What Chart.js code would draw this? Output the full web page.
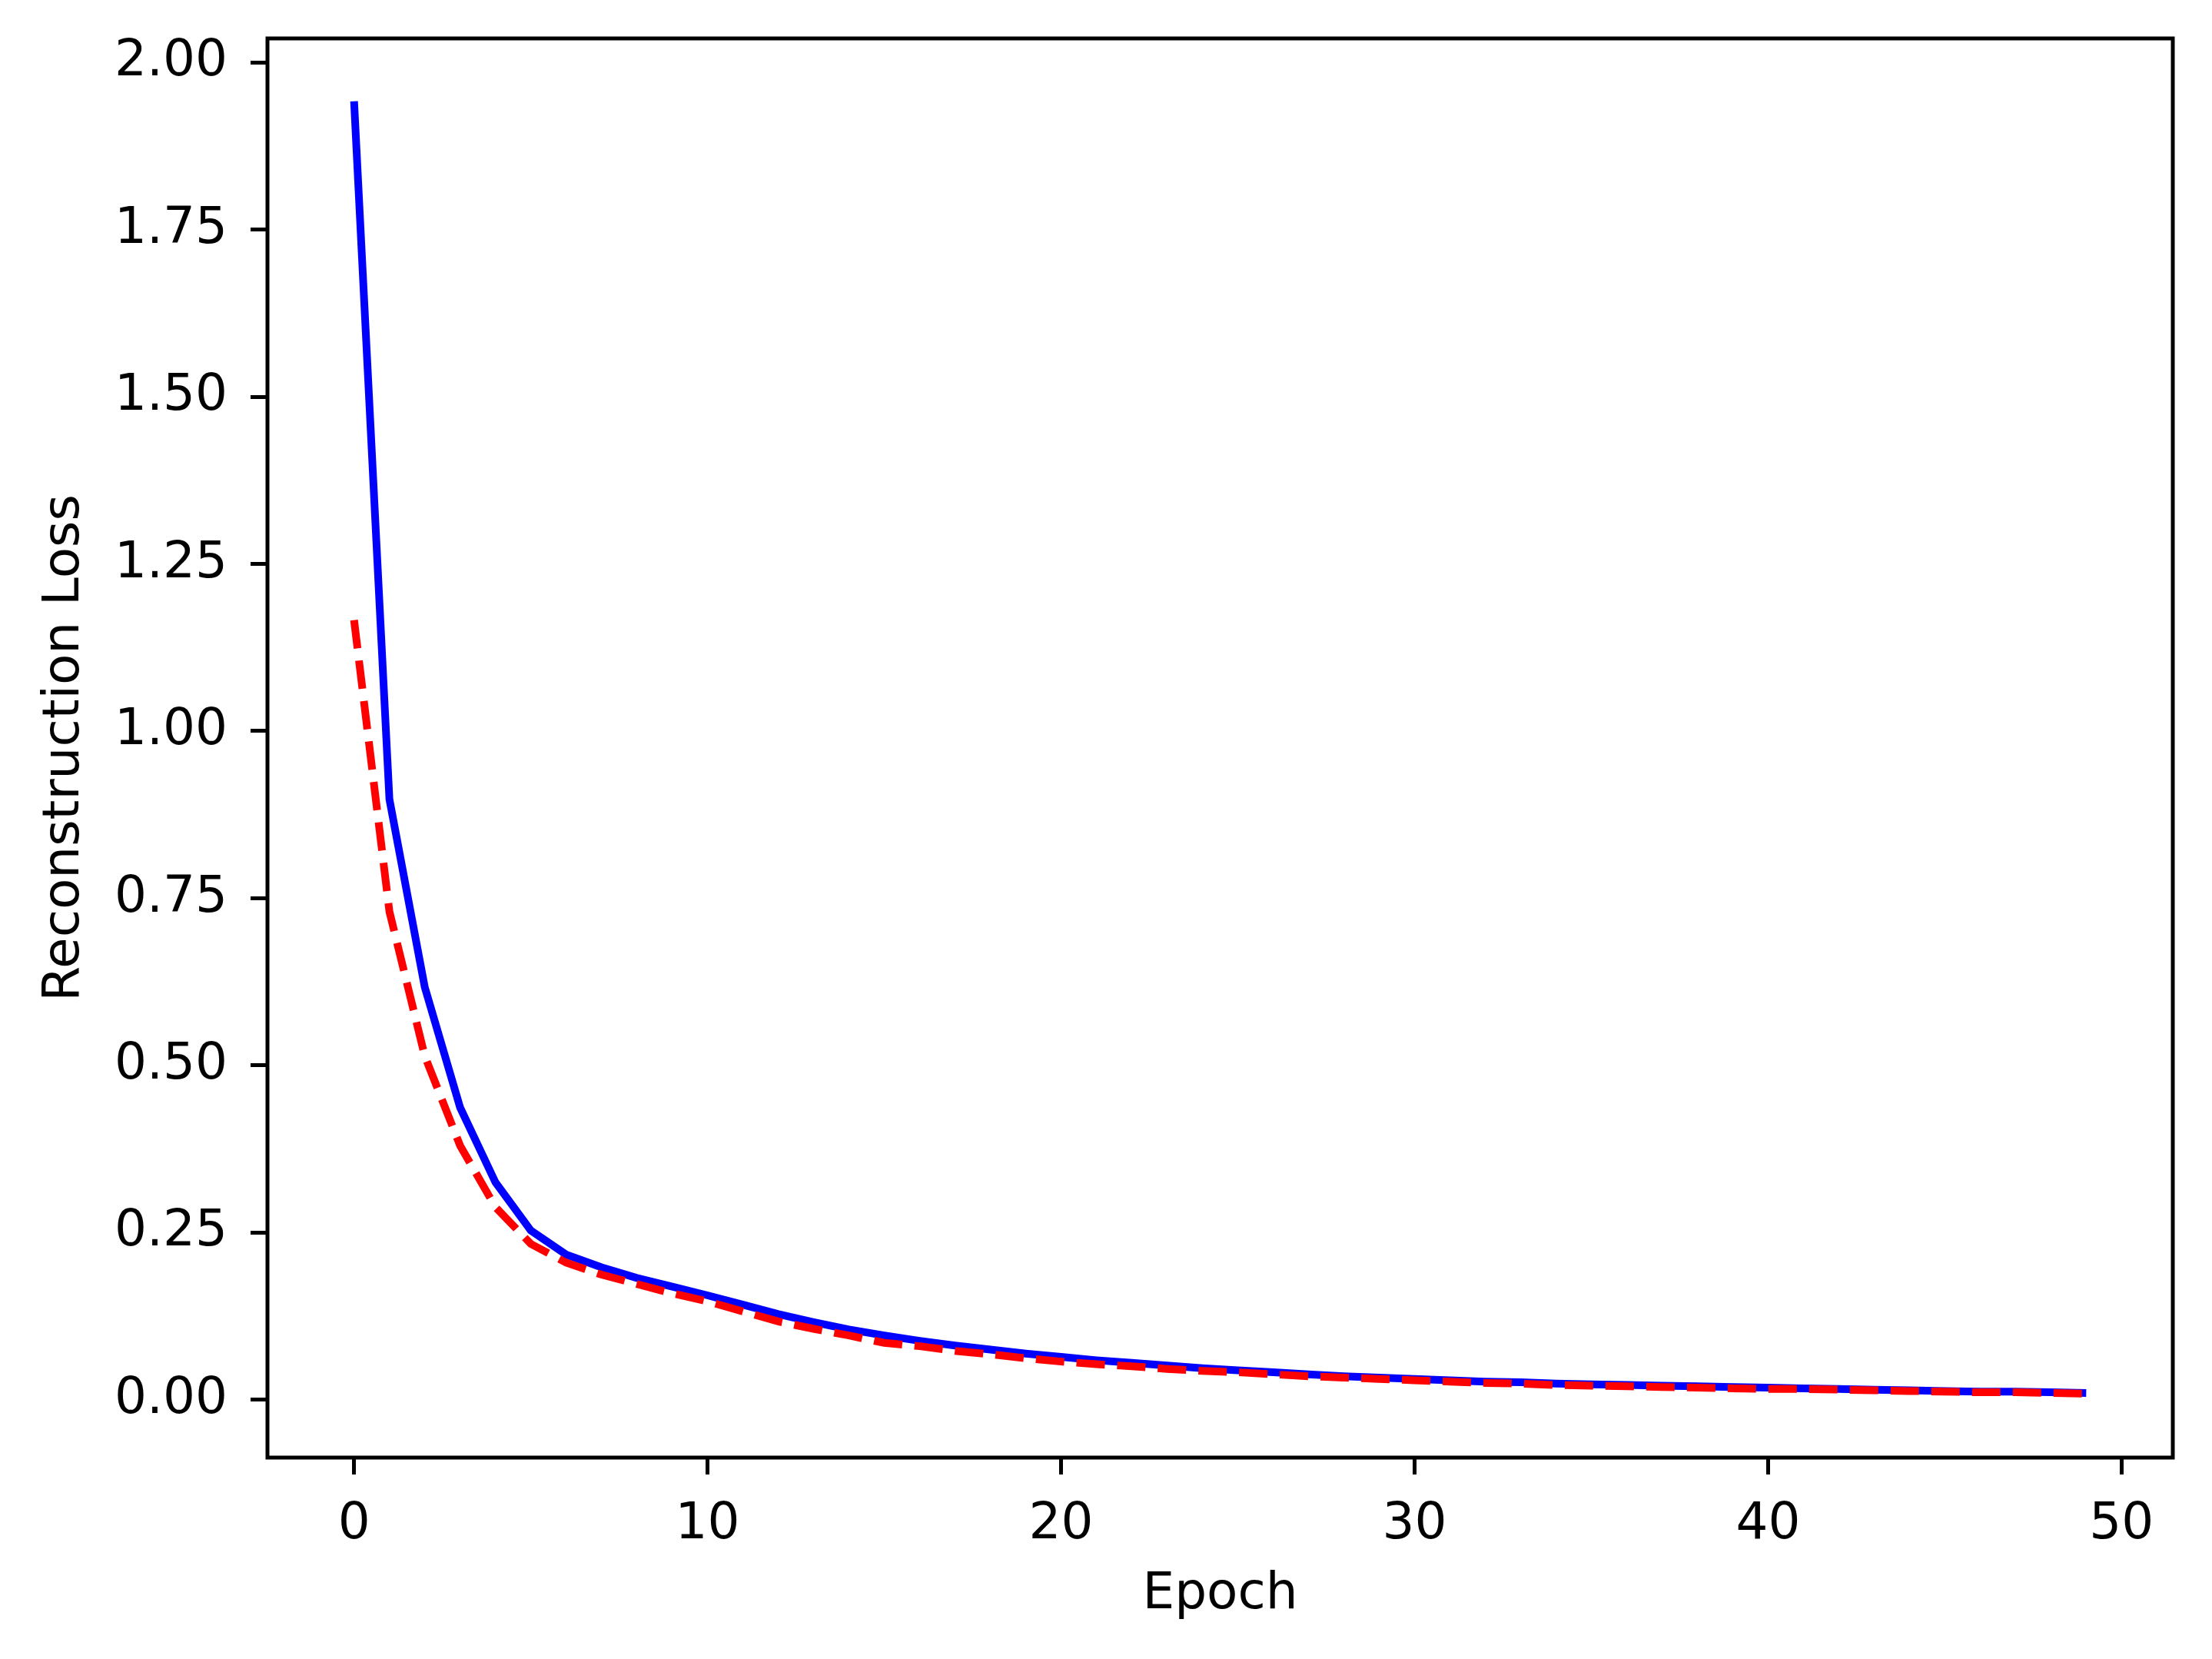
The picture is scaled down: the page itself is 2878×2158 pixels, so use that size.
<!DOCTYPE html>
<html>
<head>
<meta charset="utf-8">
<script src="https://cdn.jsdelivr.net/npm/chart.js@4"></script>
<style>
  body { margin: 0; background: #ffffff; }
  canvas { display: block; }
</style>
</head>
<body>
<canvas id="loss-chart" width="2878" height="2158"></canvas>
<script>
// epochs on the x axis
epochs = [0, 1, 2, 3, 4, 5, 6, 7, 8, 9,
          10, 11, 12, 13, 14, 15, 16, 17, 18, 19,
          20, 21, 22, 23, 24, 25, 26, 27, 28, 29,
          30, 31, 32, 33, 34, 35, 36, 37, 38, 39,
          40, 41, 42, 43, 44, 45, 46, 47, 48, 49]

// solid blue curve
lossBlue = [1.942, 0.898, 0.617, 0.437, 0.325, 0.253, 0.217, 0.198, 0.182, 0.169,
            0.156, 0.142, 0.128, 0.116, 0.105, 0.096, 0.088, 0.081, 0.075, 0.069,
            0.064, 0.059, 0.055, 0.051, 0.047, 0.044, 0.041, 0.038, 0.035, 0.033,
            0.031, 0.029, 0.027, 0.026, 0.024, 0.023, 0.022, 0.021, 0.020, 0.019,
            0.018, 0.017, 0.016, 0.015, 0.014, 0.013, 0.012, 0.012, 0.011, 0.010]

// dashed red curve
lossRed = [1.166, 0.730, 0.514, 0.380, 0.288, 0.233, 0.205, 0.187, 0.173, 0.159,
           0.147, 0.132, 0.117, 0.106, 0.096, 0.085, 0.080, 0.073, 0.068, 0.062,
           0.057, 0.053, 0.050, 0.046, 0.043, 0.041, 0.038, 0.035, 0.033, 0.031,
           0.029, 0.027, 0.025, 0.024, 0.022, 0.021, 0.020, 0.019, 0.018, 0.017,
           0.016, 0.016, 0.015, 0.014, 0.013, 0.012, 0.011, 0.011, 0.010, 0.009]

xTicks = [0, 10, 20, 30, 40, 50]
yTicks = [0, 0.25, 0.5, 0.75, 1.0, 1.25, 1.5, 1.75, 2.0]

function toPoints(values) {
    pts = []
    for (var i in values) {
        pts.push({ x: epochs[i], y: values[i] })
    }
    return pts
}

// black box around the plot area, like matplotlib spines
framePlugin = {
    id: 'frame',
    afterDraw: function (chart) {
        ctx = chart.ctx
        a = chart.chartArea
        ctx.save()
        ctx.strokeStyle = '#000000'
        ctx.lineWidth = 5
        ctx.strokeRect(a.left, a.top, a.right - a.left, a.bottom - a.top)
        ctx.restore()
    }
}

Chart.defaults.font.family = "'DejaVu Sans'"
Chart.defaults.font.size = 66
Chart.defaults.color = '#000000'

new Chart(document.getElementById("loss-chart"), {
    type: 'line',
    data: {
        datasets: [{
            data: toPoints(lossBlue),
            borderColor: '#0000ff',
            borderWidth: 10,
            pointRadius: 0,
            tension: 0,
            fill: false,
            order: 1
        }, {
            data: toPoints(lossRed),
            borderColor: '#ff0000',
            borderWidth: 10,
            borderDash: [37, 16],
            pointRadius: 0,
            tension: 0,
            fill: false,
            order: 0
        }]
    },
    options: {
        responsive: false,
        animation: false,
        layout: { padding: { left: 0, top: 50, right: 51, bottom: 0 } },
        plugins: {
            legend: { display: false },
            tooltip: { enabled: false }
        },
        scales: {
            x: {
                type: 'linear',
                min: -2.45,
                max: 51.45,
                afterBuildTicks: function (scale) {
                    scale.ticks = xTicks.map(function (v) { return { value: v } })
                },
                afterFit: function (scale) {
                    scale.height = 262
                    scale.paddingLeft = 0
                    scale.paddingRight = 0
                },
                border: { display: false },
                grid: {
                    drawOnChartArea: false,
                    drawTicks: true,
                    tickLength: 22,
                    lineWidth: 5,
                    tickColor: '#000000'
                },
                ticks: {
                    padding: 26,
                    maxRotation: 0,
                    callback: function (v) { return String(v) }
                },
                title: {
                    display: true,
                    text: 'Epoch',
                    padding: { top: 0, bottom: 44 }
                }
            },
            y: {
                type: 'linear',
                min: -0.0866,
                max: 2.036,
                afterBuildTicks: function (scale) {
                    scale.ticks = yTicks.map(function (v) { return { value: v } })
                },
                afterFit: function (scale) {
                    scale.width = 348
                    scale.paddingTop = 0
                    scale.paddingBottom = 0
                },
                border: { display: false },
                grid: {
                    drawOnChartArea: false,
                    drawTicks: true,
                    tickLength: 22,
                    lineWidth: 5,
                    tickColor: '#000000'
                },
                ticks: {
                    padding: 30,
                    callback: function (v) { return v.toFixed(2) }
                },
                title: {
                    display: true,
                    text: 'Reconstruction Loss',
                    padding: { top: 45, bottom: 0 }
                }
            }
        }
    },
    plugins: [framePlugin]
});
</script>
</body>
</html>
